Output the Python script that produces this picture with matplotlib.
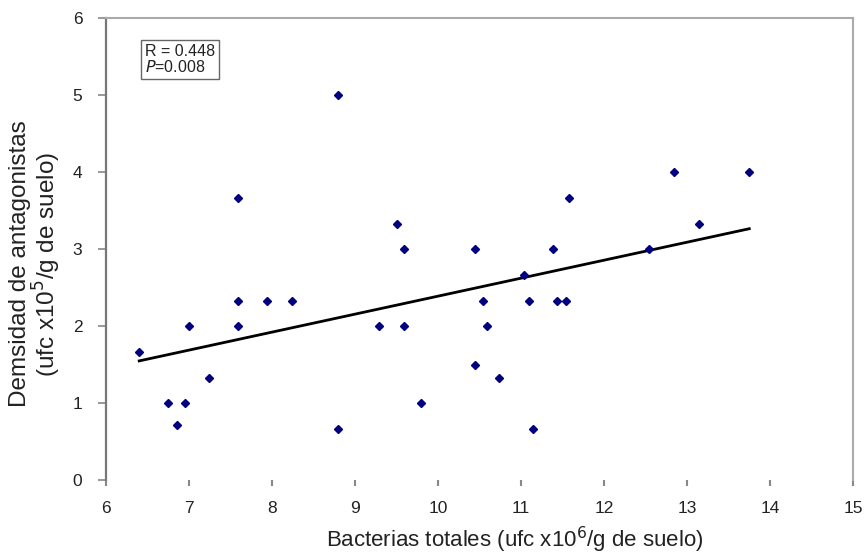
import matplotlib.pyplot as plt
import numpy as np

plt.rcParams["font.family"] = ["Liberation Sans", "DejaVu Sans"]

# bacterias totales (ufc x10^6/g de suelo)
bacterias = [6.40, 6.75, 6.86, 6.95, 7.00, 7.24, 7.59, 7.59, 7.59, 7.94, 8.24,
             8.80, 8.80, 9.29, 9.50, 9.59, 9.59, 9.80, 10.45, 10.45, 10.54, 10.59,
             10.73, 11.04, 11.10, 11.14, 11.39, 11.43, 11.54, 11.58, 12.54, 12.84,
             13.14, 13.75]
# densidad de antagonistas (ufc x10^5/g de suelo)
antagonistas = [1.66, 1.00, 0.71, 1.00, 2.00, 1.32, 3.66, 2.33, 2.00, 2.33, 2.33,
                5.00, 0.66, 2.00, 3.33, 3.00, 2.00, 1.00, 3.00, 1.50, 2.33, 2.00,
                1.33, 2.66, 2.33, 0.66, 3.00, 2.33, 2.33, 3.66, 3.00, 4.00,
                3.33, 4.00]
x_ticks = [6, 7, 8, 9, 10, 11, 12, 13, 14, 15]
y_ticks = [0, 1, 2, 3, 4, 5, 6]

fig = plt.figure(figsize=(8.64, 5.55), dpi=100)
ax = fig.add_axes([0.1227, 0.1351, 0.8646, 0.8325])

x = np.array(bacterias)
y = np.array(antagonistas)
ax.plot(x, y, "D", color="#000080", ms=4.5, mec="#000080", zorder=3)

m, b = np.polyfit(x, y, 1)
xl = np.array([x.min(), x.max()])
ax.plot(xl, m * xl + b, color="black", lw=2, zorder=2)

ax.set_xlim(6, 15)
ax.set_ylim(0, 6)
ax.set_xticks(x_ticks)
ax.set_yticks(y_ticks)
ax.tick_params(labelsize=12.5, direction="out", color="#888888", labelcolor="#222222")
ax.tick_params(axis="x", length=4, width=1.5, pad=11)
ax.tick_params(axis="y", length=6, width=1.2, pad=11)

# the frame: dark left axis, light grey top/right, no bottom line
ax.spines["bottom"].set_visible(False)
ax.spines["left"].set_color("#777777")
ax.spines["left"].set_linewidth(1.6)
for s in ["top", "right"]:
    ax.spines[s].set_color("#aaaaaa")
    ax.spines[s].set_linewidth(1.5)

fig.text(515 / 864, 1 - 540 / 555, "Bacterias totales (ufc x10$^{6}$/g de suelo)",
         ha="center", va="center", fontsize=16, color="#222222")
fig.text(36 / 864, 1 - 264 / 555,
         "Demsidad de antagonistas\n(ufc x10$^{5}$/g de suelo)",
         ha="center", va="center", rotation=90, fontsize=17.5, color="#222222",
         linespacing=1.0)

ax.text(0.052, 0.943, "R = 0.448\n$\\it{P}$=0.008", transform=ax.transAxes,
        ha="left", va="top", fontsize=11.5, color="#222222", linespacing=0.95,
        bbox=dict(boxstyle="square,pad=0.25", fc="white", ec="#666666", lw=1))

fig.savefig("out.png", dpi=100)
